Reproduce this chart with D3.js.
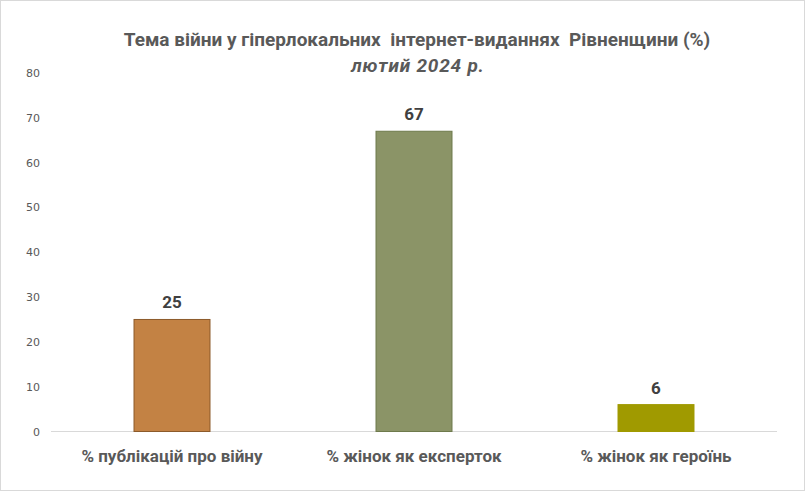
<!DOCTYPE html>
<html lang="uk">
<head>
    <meta charset="UTF-8">
    <title>Тема війни у гіперлокальних інтернет-виданнях Рівненщини</title>
    <script src="https://cdnjs.cloudflare.com/ajax/libs/d3/7.8.5/d3.min.js"></script>
    <style>
        body { margin: 0; padding: 0; background: #fff; }
        svg { display: block; }
        .tick text { font-family: "DejaVu Sans", Verdana, sans-serif; font-size: 11px; fill: #595959; }
    </style>
</head>
<body>
    <div id="chart"></div>
    <script>
        // Chart data
        const categories = ['% публікацій про війну', '% жінок як експерток', '% жінок як героїнь'];
        const values = [25, 67, 6];
        const barColors = ['#C38244', '#8B9467', '#A09A00'];
        const barStrokes = ['#8C5A2A', '#6E7A4C', '#A09A00'];
        const yTicks = [0, 10, 20, 30, 40, 50, 60, 70, 80];
        const titleText = 'Тема війни у гіперлокальних  інтернет-виданнях  Рівненщини (%)';
        const subtitleText = 'лютий 2024 р.';

        const width = 805;
        const height = 491;
        const margin = { top: 73, right: 28, bottom: 59.5, left: 51 };
        const innerW = width - margin.left - margin.right;
        const innerH = height - margin.top - margin.bottom;

        const svg = d3.select('#chart')
            .append('svg')
            .attr('width', width)
            .attr('height', height);

        // outer chart border
        svg.append('rect')
            .attr('x', 0.5).attr('y', 0.5)
            .attr('width', width - 1).attr('height', height - 1)
            .attr('fill', '#fff')
            .attr('stroke', '#d9d9d9');

        const g = svg.append('g')
            .attr('transform', `translate(${margin.left},${margin.top})`);

        const x = d3.scaleBand()
            .domain(categories)
            .range([0, innerW])
            .paddingInner(0.686)
            .paddingOuter(0.343);

        const y = d3.scaleLinear()
            .domain([0, 80])
            .range([innerH, 0]);

        // y axis, labels only
        const yAxis = g.append('g')
            .call(d3.axisLeft(y).tickValues(yTicks).tickSize(0).tickPadding(11));
        yAxis.select('.domain').remove();

        // baseline
        g.append('line')
            .attr('x1', 0).attr('x2', innerW)
            .attr('y1', y(0)).attr('y2', y(0))
            .attr('stroke', '#d9d9d9')
            .attr('stroke-width', 1);

        // bars
        g.selectAll('rect.bar')
            .data(values)
            .enter().append('rect')
            .attr('class', 'bar')
            .attr('x', (d, i) => x(categories[i]))
            .attr('width', x.bandwidth())
            .attr('y', d => y(d))
            .attr('height', d => y(0) - y(d))
            .attr('fill', (d, i) => barColors[i])
            .attr('stroke', (d, i) => barStrokes[i])
            .attr('stroke-width', 1);

        // data labels
        g.selectAll('text.val')
            .data(values)
            .enter().append('text')
            .attr('class', 'val')
            .attr('x', (d, i) => x(categories[i]) + x.bandwidth() / 2)
            .attr('y', d => y(d) - 11)
            .attr('text-anchor', 'middle')
            .style('font-family', 'Roboto, sans-serif')
            .style('font-weight', 'bold')
            .style('font-size', '17px')
            .style('fill', '#404040')
            .text(d => d);

        // category labels
        g.selectAll('text.cat')
            .data(categories)
            .enter().append('text')
            .attr('class', 'cat')
            .attr('x', d => x(d) + x.bandwidth() / 2)
            .attr('y', innerH + 30)
            .attr('text-anchor', 'middle')
            .style('font-family', 'Roboto, sans-serif')
            .style('font-weight', 'bold')
            .style('font-size', '17px')
            .style('fill', '#595959')
            .text(d => d);

        // titles
        svg.append('text')
            .attr('x', 417)
            .attr('y', 45.5)
            .attr('text-anchor', 'middle')
            .style('font-family', 'Roboto, sans-serif')
            .style('font-weight', 'bold')
            .style('font-size', '19px')
            .style('fill', '#595959')
            .style('white-space', 'pre')
            .text(titleText);

        svg.append('text')
            .attr('x', 418)
            .attr('y', 72)
            .attr('text-anchor', 'middle')
            .style('font-family', 'Roboto, sans-serif')
            .style('font-weight', 'bold')
            .style('font-style', 'italic')
            .style('font-size', '19px')
            .style('letter-spacing', '0.8px')
            .style('fill', '#595959')
            .text(subtitleText);
    </script>
</body>
</html>
